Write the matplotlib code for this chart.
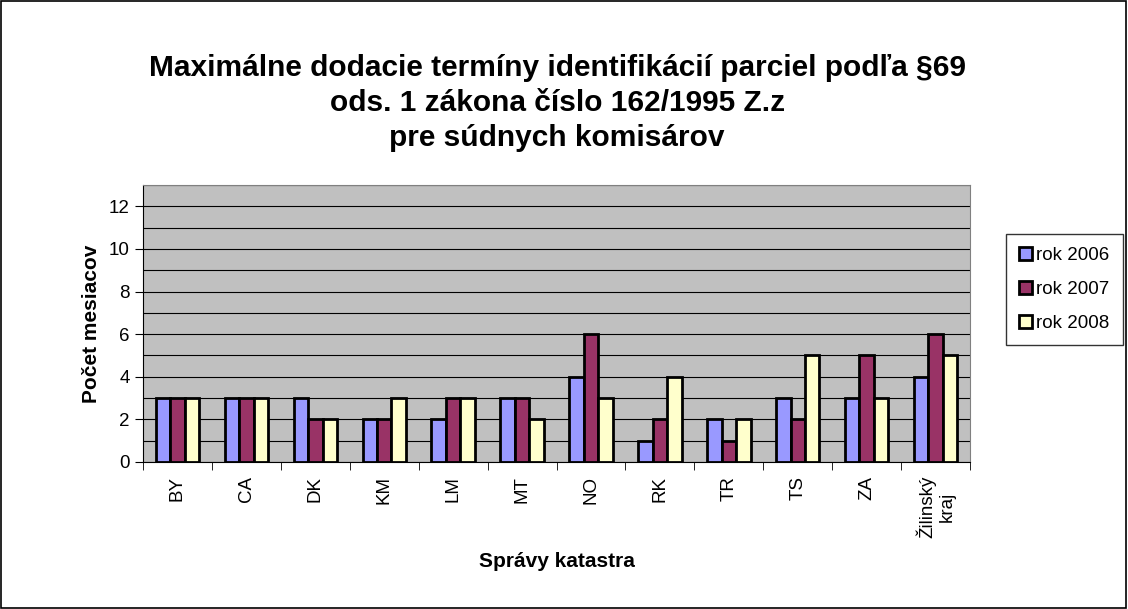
import matplotlib.pyplot as plt
import numpy as np
from matplotlib.patches import Rectangle

categories = ['BY', 'CA', 'DK', 'KM', 'LM', 'MT', 'NO', 'RK', 'TR', 'TS', 'ZA', 'Žilinský\nkraj']
rok_2006 = [3, 3, 3, 2, 2, 3, 4, 1, 2, 3, 3, 4]
rok_2007 = [3, 3, 2, 2, 3, 3, 6, 2, 1, 2, 5, 6]
rok_2008 = [3, 3, 2, 3, 3, 2, 3, 4, 2, 5, 3, 5]
series_names = ['rok 2006', 'rok 2007', 'rok 2008']
colors = ['#9999FF', '#993366', '#FFFFCC']

plt.rcParams['font.family'] = ['Liberation Sans', 'DejaVu Sans']

fig = plt.figure(figsize=(11.28, 6.09), dpi=100)
ax = fig.add_axes([0.1268, 0.2414, 0.7332, 0.4549])
ax.set_facecolor('#C0C0C0')

x = np.arange(len(categories))
w = 0.21
for i, (vals, name, c) in enumerate(zip([rok_2006, rok_2007, rok_2008], series_names, colors)):
    ax.bar(x + (i - 1) * w, vals, width=w, color=c, edgecolor='black', linewidth=2,
           label=name, zorder=3)

ax.set_xlim(-0.5, len(categories) - 0.5)
ax.set_ylim(0, 13)
ax.set_yticks(range(0, 13, 2))
ax.set_yticks(range(0, 14), minor=True)
ax.yaxis.grid(True, which='both', color='black', linewidth=0.8, zorder=0)
ax.tick_params(axis='y', labelsize=13.5, direction='out', length=6, which='major')
ax.tick_params(axis='y', which='minor', length=0)

ax.set_xticks(x)
ax.set_xticklabels(categories, rotation=90, fontsize=13.5, ha='center', va='top', multialignment='center')
ax.tick_params(axis='x', length=0, pad=10)
ax.set_xticks(np.arange(-0.5, len(categories)), minor=True)
ax.tick_params(axis='x', which='minor', length=6, direction='out')

for s in ['top', 'right']:
    ax.spines[s].set_color('#808080')
ax.spines['left'].set_color('black')
ax.spines['bottom'].set_color('black')

ax.set_ylabel('Počet mesiacov', fontsize=15, fontweight='bold', labelpad=6)
ax.set_xlabel('Správy katastra', fontsize=15, fontweight='bold', labelpad=10)

fig.text(0.494, 0.831,
         'Maximálne dodacie termíny identifikácií parciel podľa §69\n'
         'ods. 1 zákona číslo 162/1995 Z.z\npre súdnych komisárov',
         ha='center', va='center', fontsize=21.5, fontweight='bold', linespacing=1.32)

leg = fig.legend(loc='center left', bbox_to_anchor=(0.892, 0.525), fontsize=13.5,
                 frameon=True, fancybox=False, edgecolor='black', handlelength=0.7,
                 handleheight=0.7, handletextpad=0.2, labelspacing=0.9, borderpad=0.7,
                 borderaxespad=0)
leg.get_frame().set_linewidth(1)

fig.patches.append(Rectangle((0.001, 0.002), 0.997, 0.996, transform=fig.transFigure,
                             fill=False, edgecolor='black', linewidth=1.2))

fig.savefig('out.png', dpi=100)
